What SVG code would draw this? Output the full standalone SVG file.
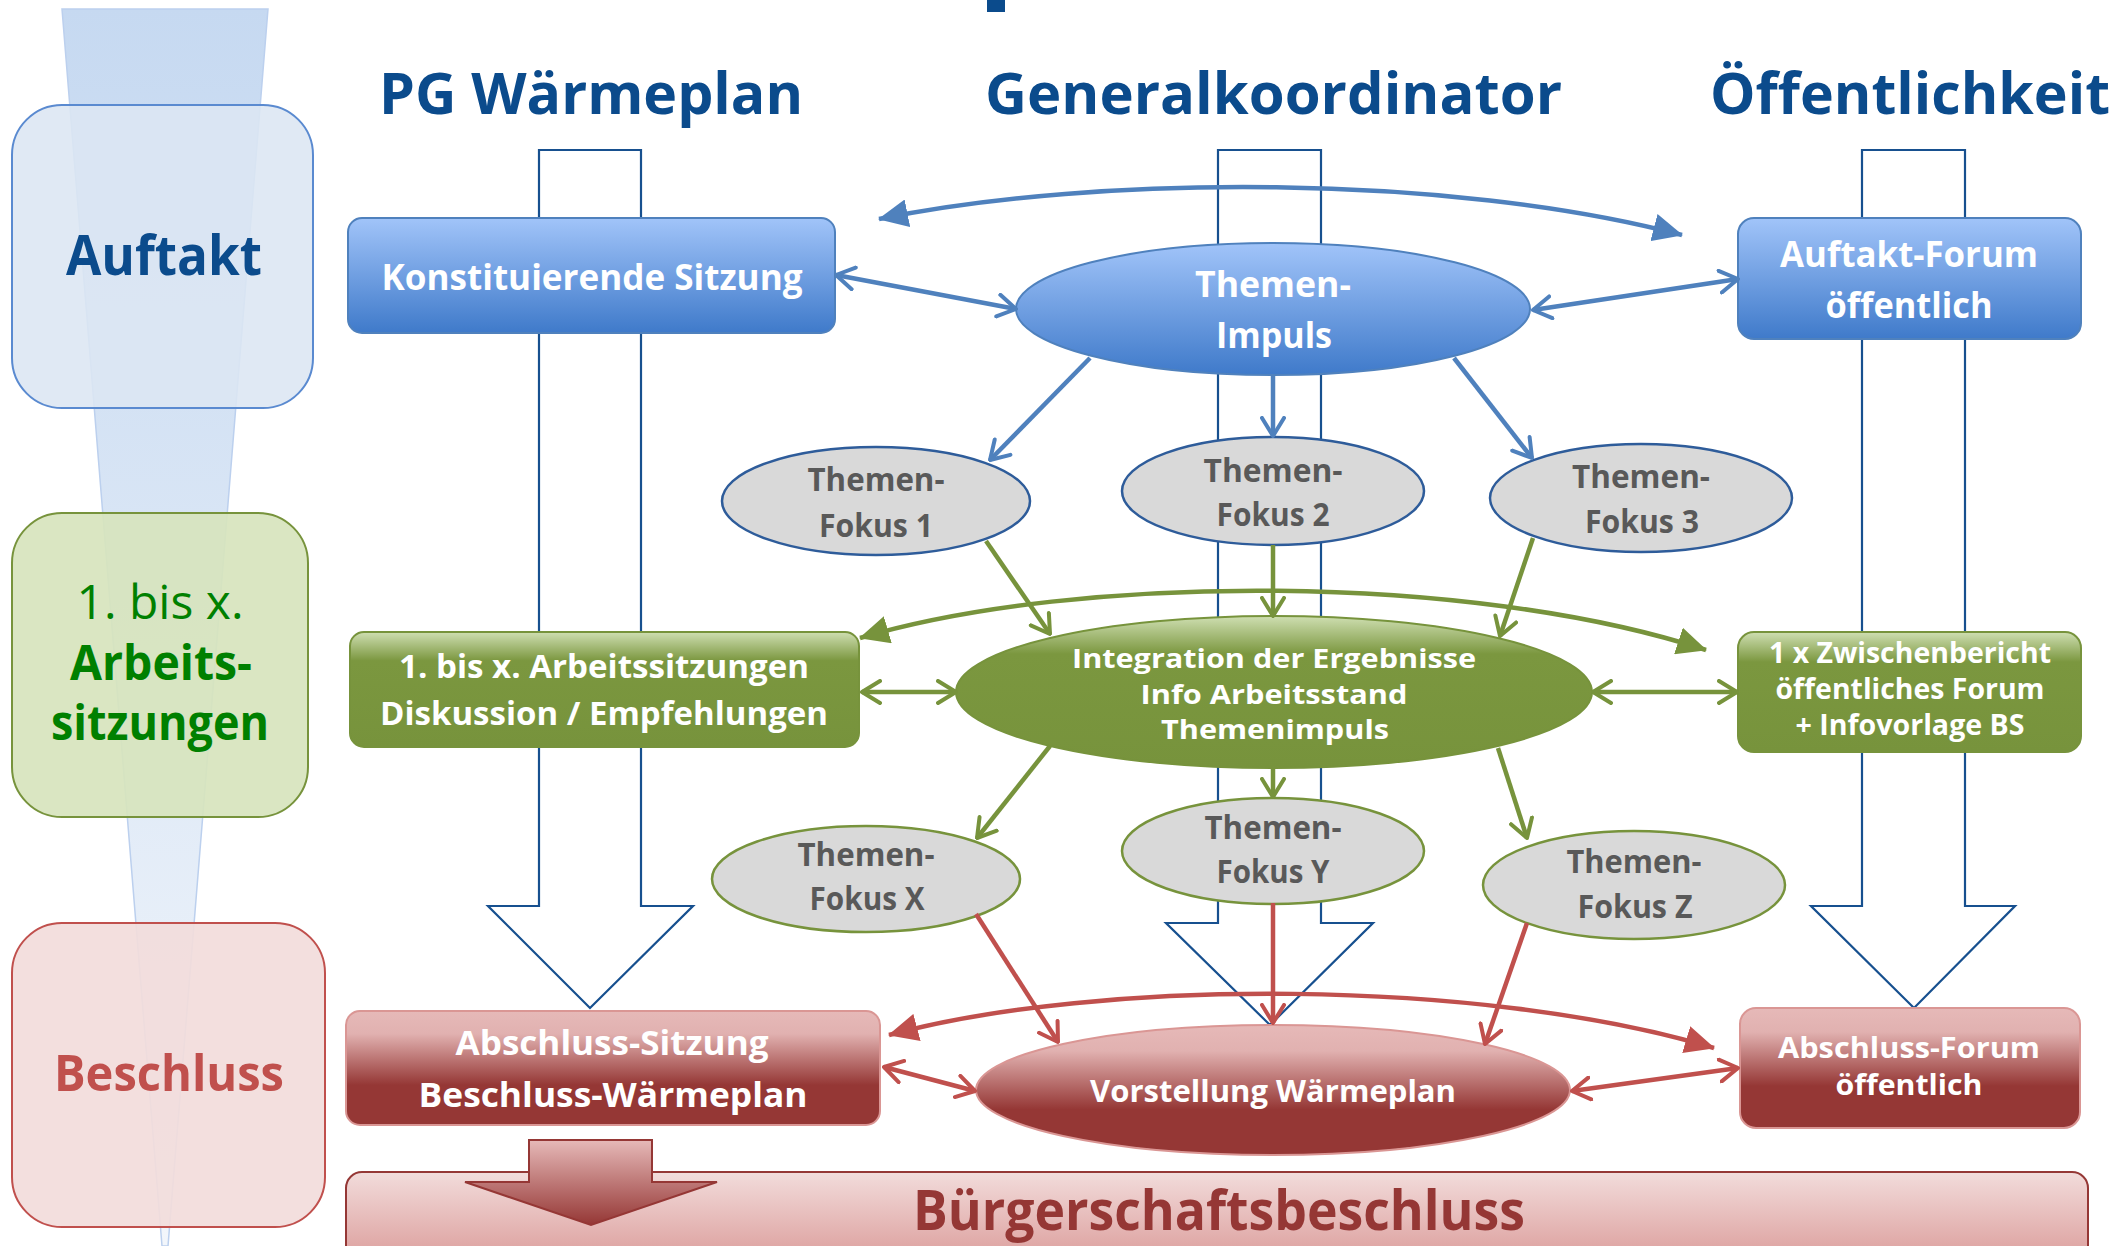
<svg xmlns="http://www.w3.org/2000/svg" width="2121" height="1246" viewBox="0 0 2121 1246">
<defs>
<style>
text{font-family:"Open Sans","Liberation Sans",sans-serif;text-anchor:middle;font-weight:bold}
.hdr{font-size:57px;fill:#0B4B8C}
.wt{fill:#FFFFFF}
.gy{fill:#595959;font-size:32px}
.lane{fill:none;stroke:#17508F;stroke-width:2.2}
.cb{fill:none;stroke:#4F81BD;stroke-width:4.5}
.cg{fill:none;stroke:#77933C;stroke-width:4.5}
.cr{fill:none;stroke:#C0504D;stroke-width:4.5}
.fb{fill:#D9D9D9;stroke:#2E5C9A;stroke-width:2.5}
.fg{fill:#D9D9D9;stroke:#77933C;stroke-width:2.5}
</style>
<linearGradient id="gFun" x1="0" y1="0" x2="0" y2="1"><stop offset="0" stop-color="#C6D9F1"/><stop offset="1" stop-color="#F2F6FB"/></linearGradient>
<linearGradient id="gBlue" x1="0" y1="0" x2="0" y2="1"><stop offset="0" stop-color="#A1C4F9"/><stop offset="1" stop-color="#3F7ACA"/></linearGradient>
<linearGradient id="gGreen" x1="0" y1="0" x2="0" y2="1"><stop offset="0" stop-color="#CFDFB2"/><stop offset="0.25" stop-color="#7B973F"/><stop offset="1" stop-color="#77933C"/></linearGradient>
<linearGradient id="gRed" x1="0" y1="0" x2="0" y2="1"><stop offset="0" stop-color="#E6B9B8"/><stop offset="0.2" stop-color="#E1B1B0"/><stop offset="0.65" stop-color="#953735"/><stop offset="1" stop-color="#953735"/></linearGradient>
<linearGradient id="gBar" x1="0" y1="0" x2="0" y2="1"><stop offset="0" stop-color="#F2DCDB"/><stop offset="1" stop-color="#D99694"/></linearGradient>
<linearGradient id="gRArr" x1="0" y1="0" x2="0" y2="1"><stop offset="0" stop-color="#E6B9B8"/><stop offset="1" stop-color="#953735"/></linearGradient>
<marker id="vB" viewBox="0 0 22 26" refX="20" refY="13" markerWidth="22" markerHeight="26" markerUnits="userSpaceOnUse" orient="auto-start-reverse"><path d="M2,2 L20,13 L2,24" fill="none" stroke="#4F81BD" stroke-width="4" stroke-linecap="round" stroke-linejoin="round"/></marker>
<marker id="vG" viewBox="0 0 22 26" refX="20" refY="13" markerWidth="22" markerHeight="26" markerUnits="userSpaceOnUse" orient="auto-start-reverse"><path d="M2,2 L20,13 L2,24" fill="none" stroke="#77933C" stroke-width="4" stroke-linecap="round" stroke-linejoin="round"/></marker>
<marker id="vR" viewBox="0 0 22 26" refX="20" refY="13" markerWidth="22" markerHeight="26" markerUnits="userSpaceOnUse" orient="auto-start-reverse"><path d="M2,2 L20,13 L2,24" fill="none" stroke="#C0504D" stroke-width="4" stroke-linecap="round" stroke-linejoin="round"/></marker>
<marker id="sB" viewBox="0 0 30 28" refX="29" refY="14" markerWidth="30" markerHeight="28" markerUnits="userSpaceOnUse" orient="auto-start-reverse"><path d="M0,0 L30,14 L0,28 Z" fill="#4F81BD"/></marker>
<marker id="sG" viewBox="0 0 30 28" refX="29" refY="14" markerWidth="30" markerHeight="28" markerUnits="userSpaceOnUse" orient="auto-start-reverse"><path d="M0,0 L30,14 L0,28 Z" fill="#77933C"/></marker>
<marker id="sR" viewBox="0 0 30 28" refX="29" refY="14" markerWidth="30" markerHeight="28" markerUnits="userSpaceOnUse" orient="auto-start-reverse"><path d="M0,0 L30,14 L0,28 Z" fill="#C0504D"/></marker>
</defs>
<rect x="0" y="0" width="2121" height="1246" fill="#FFFFFF"/>
<rect x="987" y="0" width="18" height="12" fill="#0B4B8C"/>

<g id="phases">
<polygon points="62,9 268,9 168,1246 162,1246" fill="url(#gFun)" stroke="#BCD0EE" stroke-width="1.5"/>
<g id="phase-auftakt">
<rect x="12" y="105" width="301" height="303" rx="50" fill="#DCE6F2" fill-opacity="0.88" stroke="#5A8AD0" stroke-width="2"/>
<text x="164" y="275" font-size="56" fill="#0B4B8C" textLength="196" lengthAdjust="spacingAndGlyphs">Auftakt</text>
</g>
<g id="phase-arbeit">
<rect x="12" y="513" width="296" height="304" rx="50" fill="#D7E4BD" fill-opacity="0.92" stroke="#77933C" stroke-width="2"/>
<text x="160" y="619" font-size="48" style="font-weight:normal" fill="#008000" textLength="167" lengthAdjust="spacingAndGlyphs">1. bis x.</text>
<text x="161" y="680" font-size="48" fill="#008000" textLength="182" lengthAdjust="spacingAndGlyphs">Arbeits-</text>
<text x="160" y="740" font-size="48" fill="#008000" textLength="218" lengthAdjust="spacingAndGlyphs">sitzungen</text>
</g>
<g id="phase-beschluss">
<rect x="12" y="923" width="313" height="304" rx="50" fill="#F2DCDB" fill-opacity="0.92" stroke="#C0504D" stroke-width="2"/>
<text x="169" y="1091" font-size="50" fill="#C0504D" textLength="230" lengthAdjust="spacingAndGlyphs">Beschluss</text>
</g>
</g>

<g id="headers">
<text class="hdr" x="591" y="114" textLength="424" lengthAdjust="spacingAndGlyphs">PG Wärmeplan</text>
<text class="hdr" x="1273.5" y="114" textLength="577" lengthAdjust="spacingAndGlyphs">Generalkoordinator</text>
<text class="hdr" x="1910" y="114" textLength="400" lengthAdjust="spacingAndGlyphs">Öffentlichkeit</text>
</g>

<g id="lanes">
<path class="lane" d="M539,150 L641,150 L641,906 L693,906 L590,1008 L488,906 L539,906 Z"/>
<path class="lane" d="M1218,150 L1321,150 L1321,923 L1373,923 L1270,1025 L1166,923 L1218,923 Z"/>
<path class="lane" d="M1862,150 L1965,150 L1965,906 L2015,906 L1914,1008 L1811,906 L1862,906 Z"/>
</g>

<g id="n-konst">
<rect x="348" y="218" width="487" height="115" rx="14" fill="url(#gBlue)" stroke="#4F81BD" stroke-width="2"/>
<text class="wt" x="592" y="290" font-size="35" textLength="421" lengthAdjust="spacingAndGlyphs">Konstituierende Sitzung</text>
</g>
<g id="n-impuls">
<ellipse cx="1273" cy="309" rx="257" ry="66" fill="url(#gBlue)" stroke="#4F81BD" stroke-width="2"/>
<text class="wt" x="1273" y="297" font-size="36" textLength="156" lengthAdjust="spacingAndGlyphs">Themen-</text>
<text class="wt" x="1274" y="348" font-size="36" textLength="116" lengthAdjust="spacingAndGlyphs">Impuls</text>
</g>
<g id="n-auftaktforum">
<rect x="1738" y="218" width="343" height="121" rx="16" fill="url(#gBlue)" stroke="#4F81BD" stroke-width="2"/>
<text class="wt" x="1909" y="267" font-size="35" textLength="258" lengthAdjust="spacingAndGlyphs">Auftakt-Forum</text>
<text class="wt" x="1909" y="318" font-size="35" textLength="167" lengthAdjust="spacingAndGlyphs">öffentlich</text>
</g>
<g id="n-fokus1">
<ellipse class="fb" cx="876" cy="501" rx="154" ry="54"/>
<text class="gy" x="876" y="491" textLength="137" lengthAdjust="spacingAndGlyphs">Themen-</text>
<text class="gy" x="876" y="537" textLength="114" lengthAdjust="spacingAndGlyphs">Fokus 1</text>
</g>
<g id="n-fokus2">
<ellipse class="fb" cx="1273" cy="491" rx="151" ry="54"/>
<text class="gy" x="1273" y="482" textLength="139" lengthAdjust="spacingAndGlyphs">Themen-</text>
<text class="gy" x="1273" y="526" textLength="113" lengthAdjust="spacingAndGlyphs">Fokus 2</text>
</g>
<g id="n-fokus3">
<ellipse class="fb" cx="1641" cy="498" rx="151" ry="54"/>
<text class="gy" x="1641" y="488" textLength="138" lengthAdjust="spacingAndGlyphs">Themen-</text>
<text class="gy" x="1642" y="533" textLength="114" lengthAdjust="spacingAndGlyphs">Fokus 3</text>
</g>
<g id="n-arbeitssitzungen">
<rect x="350" y="632" width="509" height="115" rx="14" fill="url(#gGreen)" stroke="#77933C" stroke-width="2"/>
<text class="wt" x="604" y="678" font-size="32" textLength="410" lengthAdjust="spacingAndGlyphs">1. bis x. Arbeitssitzungen</text>
<text class="wt" x="604" y="725" font-size="32" textLength="448" lengthAdjust="spacingAndGlyphs">Diskussion / Empfehlungen</text>
</g>
<g id="n-integration">
<ellipse cx="1274" cy="692" rx="318" ry="76" fill="url(#gGreen)" stroke="#77933C" stroke-width="2"/>
<text class="wt" x="1274" y="668" font-size="27" textLength="404" lengthAdjust="spacingAndGlyphs">Integration der Ergebnisse</text>
<text class="wt" x="1274" y="704" font-size="27" textLength="267" lengthAdjust="spacingAndGlyphs">Info Arbeitsstand</text>
<text class="wt" x="1275" y="739" font-size="27" textLength="228" lengthAdjust="spacingAndGlyphs">Themenimpuls</text>
</g>
<g id="n-zwischenbericht">
<rect x="1738" y="632" width="343" height="120" rx="16" fill="url(#gGreen)" stroke="#77933C" stroke-width="2"/>
<text class="wt" x="1910" y="663" font-size="28" textLength="282" lengthAdjust="spacingAndGlyphs">1 x Zwischenbericht</text>
<text class="wt" x="1910" y="699" font-size="28" textLength="269" lengthAdjust="spacingAndGlyphs">öffentliches Forum</text>
<text class="wt" x="1910" y="735" font-size="28" textLength="229" lengthAdjust="spacingAndGlyphs">+ Infovorlage BS</text>
</g>
<g id="n-fokusX">
<ellipse class="fg" cx="866" cy="879" rx="154" ry="53"/>
<text class="gy" x="866" y="866" textLength="137" lengthAdjust="spacingAndGlyphs">Themen-</text>
<text class="gy" x="867" y="910" textLength="115" lengthAdjust="spacingAndGlyphs">Fokus X</text>
</g>
<g id="n-fokusY">
<ellipse class="fg" cx="1273" cy="851" rx="151" ry="53"/>
<text class="gy" x="1273" y="839" textLength="137" lengthAdjust="spacingAndGlyphs">Themen-</text>
<text class="gy" x="1273" y="883" textLength="113" lengthAdjust="spacingAndGlyphs">Fokus Y</text>
</g>
<g id="n-fokusZ">
<ellipse class="fg" cx="1634" cy="885" rx="151" ry="54"/>
<text class="gy" x="1634" y="873" textLength="135" lengthAdjust="spacingAndGlyphs">Themen-</text>
<text class="gy" x="1635" y="918" textLength="115" lengthAdjust="spacingAndGlyphs">Fokus Z</text>
</g>
<g id="n-abschlusssitzung">
<rect x="346" y="1011" width="534" height="114" rx="14" fill="url(#gRed)" stroke="#DA9694" stroke-width="2"/>
<text class="wt" x="612" y="1055" font-size="34" textLength="313" lengthAdjust="spacingAndGlyphs">Abschluss-Sitzung</text>
<text class="wt" x="613" y="1107" font-size="34" textLength="389" lengthAdjust="spacingAndGlyphs">Beschluss-Wärmeplan</text>
</g>
<g id="n-vorstellung">
<ellipse cx="1273" cy="1090" rx="297" ry="65" fill="url(#gRed)" stroke="#DA9694" stroke-width="2"/>
<text class="wt" x="1273" y="1102" font-size="30" textLength="366" lengthAdjust="spacingAndGlyphs">Vorstellung Wärmeplan</text>
</g>
<g id="n-abschlussforum">
<rect x="1740" y="1008" width="340" height="120" rx="16" fill="url(#gRed)" stroke="#DA9694" stroke-width="2"/>
<text class="wt" x="1909" y="1058" font-size="29" textLength="262" lengthAdjust="spacingAndGlyphs">Abschluss-Forum</text>
<text class="wt" x="1909" y="1095" font-size="29" textLength="147" lengthAdjust="spacingAndGlyphs">öffentlich</text>
</g>
<g id="n-buergerschaft">
<rect x="346" y="1172" width="1742" height="100" rx="16" fill="url(#gBar)" stroke="#953735" stroke-width="2"/>
<text x="1219" y="1230" font-size="56" fill="#953735" textLength="612" lengthAdjust="spacingAndGlyphs">Bürgerschaftsbeschluss</text>
</g>

<g id="connectors">
<path class="cb" stroke-width="5.5" d="M879,219 C1100,174 1450,174 1682,235" marker-start="url(#sB)" marker-end="url(#sB)"/>
<path class="cb" d="M836,275 L1016,309" marker-start="url(#vB)" marker-end="url(#vB)"/>
<path class="cb" d="M1533,310 L1738,279" marker-start="url(#vB)" marker-end="url(#vB)"/>
<path class="cb" d="M1090,358 L990,460" marker-end="url(#vB)"/>
<path class="cb" d="M1273,376 L1273,436" marker-end="url(#vB)"/>
<path class="cb" d="M1454,358 L1532,458" marker-end="url(#vB)"/>

<path class="cg" stroke-width="5.5" d="M860,638 C1080,573 1470,573 1706,650" marker-start="url(#sG)" marker-end="url(#sG)"/>
<path class="cg" d="M862,692 L956,692" marker-start="url(#vG)" marker-end="url(#vG)"/>
<path class="cg" d="M1593,692 L1737,692" marker-start="url(#vG)" marker-end="url(#vG)"/>
<path class="cg" d="M986,541 L1050,634" marker-end="url(#vG)"/>
<path class="cg" d="M1273,545 L1273,616" marker-end="url(#vG)"/>
<path class="cg" d="M1533,538 L1500,636" marker-end="url(#vG)"/>
<path class="cg" d="M1050,746 L977,838" marker-end="url(#vG)"/>
<path class="cg" d="M1273,768 L1273,797" marker-end="url(#vG)"/>
<path class="cg" d="M1498,748 L1527,838" marker-end="url(#vG)"/>

<path class="cr" stroke-width="5.5" d="M889,1035 C1100,978 1480,978 1714,1048" marker-start="url(#sR)" marker-end="url(#sR)"/>
<path class="cr" d="M884,1067 L975,1091" marker-start="url(#vR)" marker-end="url(#vR)"/>
<path class="cr" d="M1572,1091 L1738,1068" marker-start="url(#vR)" marker-end="url(#vR)"/>
<path class="cr" d="M976,914 L1058,1042" marker-end="url(#vR)"/>
<path class="cr" d="M1273,903 L1273,1023" marker-end="url(#vR)"/>
<path class="cr" d="M1527,923 L1485,1044" marker-end="url(#vR)"/>

<path d="M529,1140 L652,1140 L652,1182 L717,1182 L591,1225 L465,1182 L529,1182 Z" fill="url(#gRArr)" stroke="#953735" stroke-width="2"/>
</g>
</svg>
